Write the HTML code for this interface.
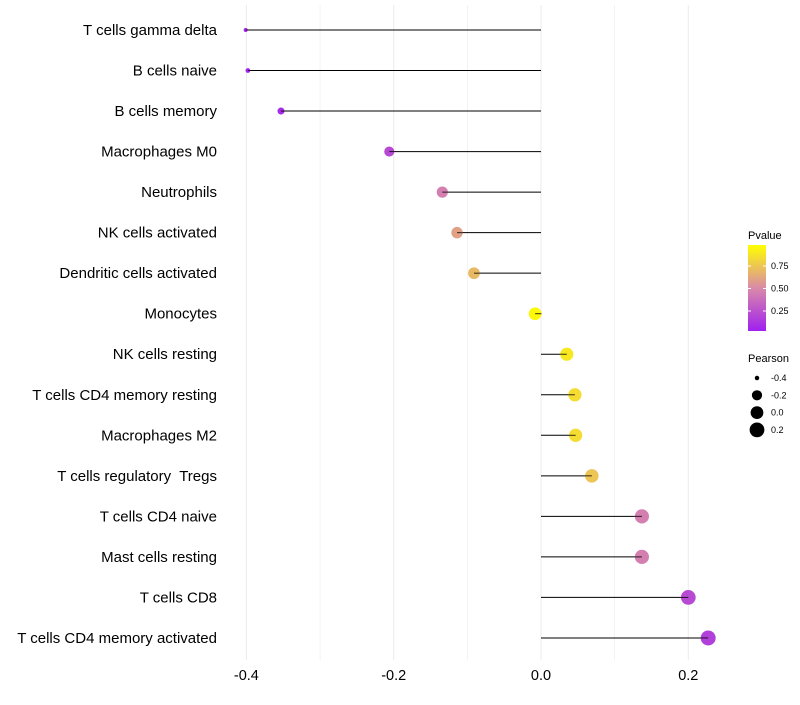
<!DOCTYPE html>
<html><head><meta charset="utf-8"><style>
body{margin:0;background:#fff;font-family:"Liberation Sans",sans-serif}
text{white-space:pre}
</style></head><body>
<svg id="c" width="800" height="700" xmlns="http://www.w3.org/2000/svg">
<defs><linearGradient id="g" x1="0" y1="1" x2="0" y2="0">
<stop offset="0" stop-color="#a020f0"/><stop offset="0.5" stop-color="#d98aa8"/><stop offset="1" stop-color="#ffff00"/></linearGradient></defs>
</svg>
<script>
const categories=["T cells gamma delta","B cells naive","B cells memory","Macrophages M0","Neutrophils","NK cells activated","Dendritic cells activated","Monocytes","NK cells resting","T cells CD4 memory resting","Macrophages M2","T cells regulatory  Tregs","T cells CD4 naive","Mast cells resting","T cells CD8","T cells CD4 memory activated"];
const pearson=[-0.401,-0.398,-0.353,-0.206,-0.134,-0.114,-0.091,-0.008,0.035,0.046,0.047,0.069,0.137,0.137,0.2,0.227];
const pvalue=[0.03,0.03,0.05,0.2,0.45,0.6,0.7,0.97,0.9,0.85,0.85,0.75,0.45,0.45,0.2,0.15];
const xTicks=[-0.4,-0.2,0.0,0.2];
const xTickLabels=["-0.4","-0.2","0.0","0.2"];
const gridMinor=[-0.3,-0.1,0.1];
const sizeLegend=[-0.4,-0.2,0.0,0.2];
const pTicks=[0.25,0.5,0.75];

const svg=document.getElementById('c');const NS="http://www.w3.org/2000/svg";
function mk(t,a,p){const e=document.createElementNS(NS,t);for(const k in a)e.setAttribute(k,a[k]);(p||svg).appendChild(e);return e;}
const x=v=>541+v*736.5;
const y=i=>30+i*40.53;
const rad=v=>2+5.5*Math.sqrt(Math.max(0,v+0.401)/0.628);
function lerp(a,b,t){return a.map((c,i)=>Math.round(c+(b[i]-c)*t));}
function col(p){const A=[160,32,240],M=[217,138,168],B=[255,255,0];p=Math.max(0,Math.min(1,p));const c=p<0.5?lerp(A,M,p/0.5):lerp(M,B,(p-0.5)/0.5);return `rgb(${c})`;}
[...xTicks,...gridMinor].forEach(v=>{const l=mk('line',{x1:x(v),x2:x(v),y1:5,y2:660,stroke:'#ebebeb','stroke-width':xTicks.includes(v)?1:0.6});
});
xTicks.forEach((v,i)=>{const t=mk('text',{x:x(v),y:680,'font-size':14.5,'text-anchor':'middle',fill:'#000'});t.textContent=xTickLabels[i];
});
categories.forEach((c,i)=>{
const t=mk('text',{x:217,y:y(i)+5,'font-size':15,'text-anchor':'end',fill:'#000'});t.textContent=c;

const l=mk('line',{x1:x(0),x2:x(pearson[i]),y1:y(i),y2:y(i),stroke:'#000','stroke-width':1});

const d=mk('circle',{cx:x(pearson[i]),cy:y(i),r:rad(pearson[i]),fill:col(pvalue[i])});

const l2=mk('line',{x1:x(pearson[i])-(pearson[i]<0?0:rad(pearson[i])),x2:x(pearson[i])+(pearson[i]<0?rad(pearson[i]):0),y1:y(i),y2:y(i),stroke:'#000','stroke-width':1,opacity:0.8});

});
const lt=mk('text',{x:748,y:239,'font-size':11});lt.textContent='Pvalue';

const bar=mk('rect',{x:748,y:245,width:18,height:86,fill:'url(#g)'});

const py=p=>331-(p-0.028)/0.25*22.5;
pTicks.forEach(p=>{const t=mk('text',{x:771,y:py(p)+3,'font-size':9});t.textContent=p.toFixed(2);

mk('line',{x1:748,x2:751,y1:py(p),y2:py(p),stroke:'#fff'});mk('line',{x1:763,x2:766,y1:py(p),y2:py(p),stroke:'#fff'});});
const st=mk('text',{x:748,y:362,'font-size':11});st.textContent='Pearson';

sizeLegend.forEach((v,i)=>{const cy=378+i*17.3;
const c=mk('circle',{cx:757,cy:cy,r:rad(v),fill:'#000'});
const t=mk('text',{x:771,y:cy+3,'font-size':9});t.textContent=v.toFixed(1);
});
</script>
</body></html>
